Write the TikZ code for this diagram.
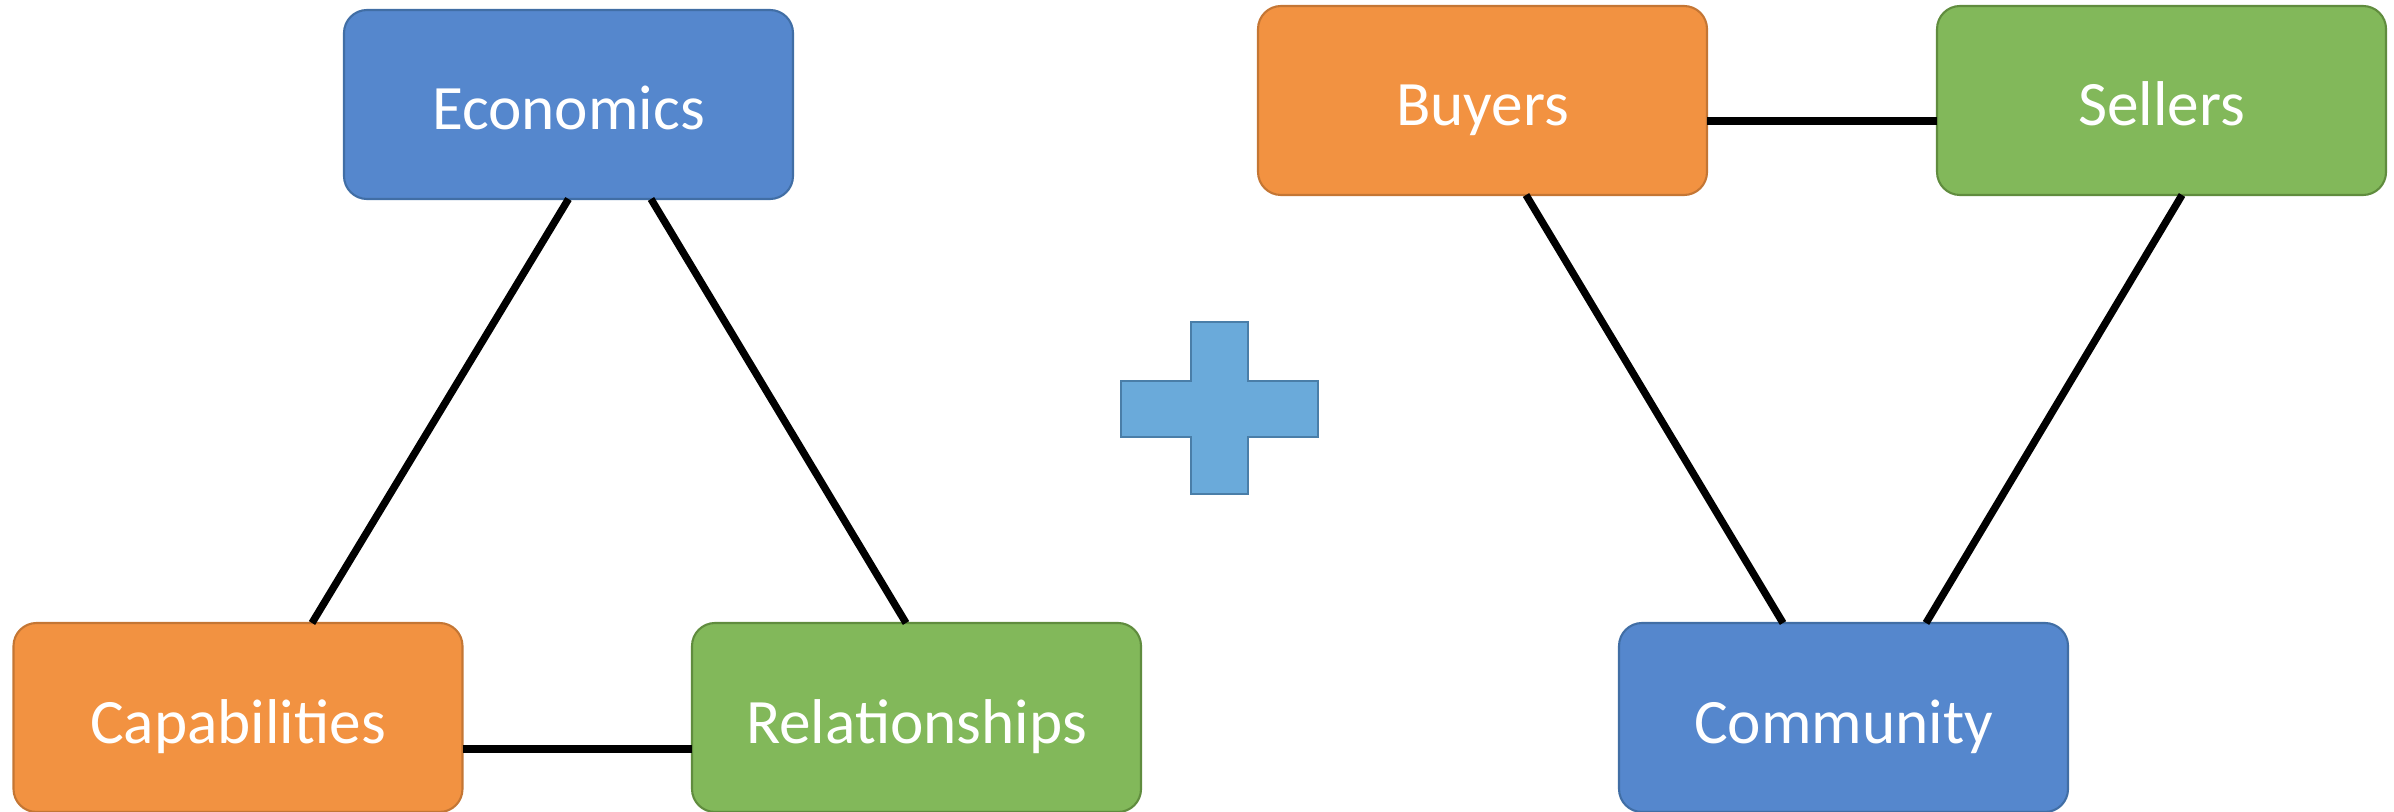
\documentclass[tikz,border=0pt]{standalone}
\usepackage{fontspec}
\setmainfont{Carlito}
\usepackage{tikz}
\usepackage{xcolor}
\definecolor{boxblue}{RGB}{85, 135, 205}
\definecolor{boxblueedge}{RGB}{65, 110, 165}
\definecolor{boxorange}{RGB}{242, 146, 65}
\definecolor{boxorangeedge}{RGB}{196, 118, 52}
\definecolor{boxgreen}{RGB}{130, 184, 90}
\definecolor{boxgreenedge}{RGB}{96, 140, 62}
\definecolor{plusblue}{RGB}{106, 170, 218}
\definecolor{plusblueedge}{RGB}{74, 126, 168}

\begin{document}
\begin{tikzpicture}[
    block/.style={draw, line width=0.6pt, rounded corners=0.23cm, minimum width=4.49cm, minimum height=1.89cm,
        inner sep=0pt, outer sep=0pt, text=white, text height=0.51cm, text depth=0pt,
        font=\fontsize{18}{22}\selectfont},
    link/.style={line width=2.1pt, black}
]
    \useasboundingbox (0,0) rectangle (23.94,8.11);

    % Left triangle
    \node[block, fill=boxblue, draw=boxblueedge] (eco) at (5.685,7.065) {Economics};
    \node[block, fill=boxorange, draw=boxorangeedge] (cap) at (2.38,0.935) {Capabilities};
    \node[block, fill=boxgreen, draw=boxgreenedge] (rel) at (9.165,0.935) {Relationships};

    \draw[link] (eco.south) -- ([xshift=0.74cm]cap.north);
    \draw[link] ([xshift=0.825cm]eco.south) -- ([xshift=-0.105cm]rel.north);
    \draw[link] ([yshift=-0.315cm]cap.east) -- ([yshift=-0.315cm]rel.west);

    % Plus sign
    \draw[fill=plusblue, draw=plusblueedge, line width=0.6pt]
        (11.91,3.17) -- (12.48,3.17) -- (12.48,3.74) -- (13.18,3.74) -- (13.18,4.30) -- (12.48,4.30)
        -- (12.48,4.89) -- (11.91,4.89) -- (11.91,4.30) -- (11.21,4.30) -- (11.21,3.74) -- (11.91,3.74) -- cycle;

    % Right triangle
    \node[block, fill=boxorange, draw=boxorangeedge] (buy) at (14.825,7.105) {Buyers};
    \node[block, fill=boxgreen, draw=boxgreenedge] (sel) at (21.615,7.105) {Sellers};
    \node[block, fill=boxblue, draw=boxblueedge] (com) at (18.435,0.935) {Community};

    \draw[link] ([yshift=-0.205cm]buy.east) -- ([yshift=-0.205cm]sel.west);
    \draw[link] ([xshift=0.435cm]buy.south) -- ([xshift=-0.605cm]com.north);
    \draw[link] ([xshift=0.205cm]sel.south) -- ([xshift=0.825cm]com.north);
\end{tikzpicture}
\end{document}
